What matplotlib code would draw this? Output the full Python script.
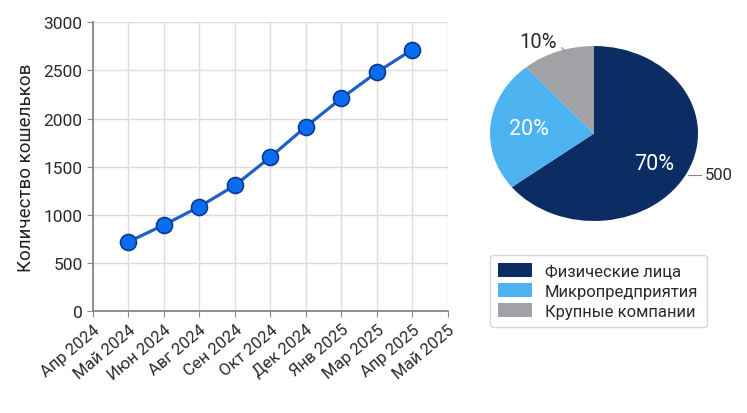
import matplotlib.pyplot as plt
import matplotlib.transforms as mtransforms
import numpy as np

plt.rcParams['font.family'] = ['Roboto', 'DejaVu Sans']

# line chart data
months = ["Апр 2024", "Май 2024", "Июн 2024", "Авг 2024", "Сен 2024", "Окт 2024",
          "Дек 2024", "Янв 2025", "Мар 2025", "Апр 2025", "Май 2025"]
wallet_idx = [1, 2, 3, 4, 5, 6, 7, 8, 9]
wallets = [720, 895, 1085, 1305, 1600, 1915, 2210, 2480, 2715]

# pie data (slices as drawn; labels as printed)
segments = ["Физические лица", "Микропредприятия", "Крупные компании"]
shares = [64.5, 24.2, 11.3]
share_labels = ["70%", "20%", "10%"]
seg_colors = ["#0b2d63", "#4db3f0", "#a0a2a5"]

fig = plt.figure(figsize=(7.47, 4.14), dpi=100)

ax = fig.add_axes([0.1245, 0.246, 0.475, 0.698])
ax.plot(wallet_idx, wallets, color="#1f5fc8", lw=2.3, marker="o", ms=11.5,
        markerfacecolor="#0a6cf0", markeredgecolor="#0a3a8a", markeredgewidth=1.2, zorder=3)
ax.set_xlim(0, len(months) - 1)
ax.set_ylim(0, 3000)
ax.set_yticks(np.arange(0, 3001, 500))
ax.set_xticks(range(len(months)))
ax.set_xticklabels(months, rotation=40, ha="right", rotation_mode="anchor", fontsize=12, color="#2a2a2a")
off = mtransforms.ScaledTranslation(10 / 72, 0, fig.dpi_scale_trans)
for lbl in ax.get_xticklabels():
    lbl.set_transform(lbl.get_transform() + off)
ax.tick_params(axis="y", labelsize=12.5, colors="#2a2a2a", length=4, color="#888888")
ax.tick_params(axis="x", length=4, color="#888888")
ax.grid(True, color="#dddddd", lw=1)
ax.set_axisbelow(True)
for s in ["top", "right"]:
    ax.spines[s].set_visible(False)
for s in ["left", "bottom"]:
    ax.spines[s].set_color("#888888")
    ax.spines[s].set_linewidth(1.3)
ax.set_ylabel("Количество кошельков", fontsize=13.5, color="#222222", labelpad=6)

# pie (elliptical)
pax = fig.add_axes([490 / 747, 1 - 222 / 414, 208 / 747, 175 / 414])
wedges, _ = pax.pie(shares, colors=seg_colors, startangle=90, counterclock=False,
                    radius=1, wedgeprops=dict(linewidth=0))
pax.set_aspect("auto")
pax.set_xlim(-1, 1)
pax.set_ylim(-1, 1)
pax.text(-0.54, 1.05, share_labels[2], fontsize=14.5, color="#2a2a2a", ha="center", va="center")
pax.plot([-0.31, -0.27], [0.98, 0.93], color="#888888", lw=0.8, clip_on=False)
pax.text(-0.63, 0.06, share_labels[1], fontsize=15.5, color="white", ha="center", va="center")
pax.text(0.58, -0.34, share_labels[0], fontsize=15.5, color="white", ha="center", va="center")
pax.plot([0.9, 1.03], [-0.47, -0.47], color="#888888", lw=0.8, clip_on=False)
pax.text(1.07, -0.47, "500", fontsize=12, color="#2a2a2a", ha="left", va="center")

leg = fig.legend(wedges, segments, loc="upper left", bbox_to_anchor=(490 / 747, 1 - 256 / 414),
                 borderaxespad=0, fontsize=12, frameon=True, fancybox=True, edgecolor="#cccccc",
                 handlelength=2.0, handleheight=0.9, labelspacing=0.25, borderpad=0.5,
                 handletextpad=0.8, labelcolor="#2a2a2a")

fig.savefig("out.png", dpi=100)
